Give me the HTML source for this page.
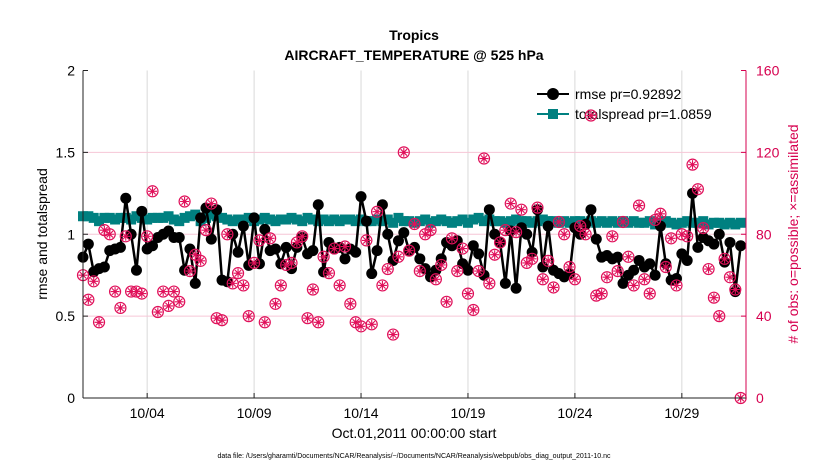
<!DOCTYPE html>
<html><head><meta charset="utf-8"><style>
body{margin:0;background:#fff;}
svg text{font-family:"Liberation Sans",Arial,sans-serif;}
</style></head><body>
<svg id="chart" width="830" height="470" xmlns="http://www.w3.org/2000/svg">
<rect width="830" height="470" fill="#fff"/>
<g id="grid"></g>
<g id="obs"></g>
<g id="spread"></g>
<g id="rmse"></g>
<g id="axes"></g>
<text x="414" y="40" text-anchor="middle" font-size="14" font-weight="bold">Tropics</text>
<text x="414" y="60" text-anchor="middle" font-size="14" font-weight="bold">AIRCRAFT_TEMPERATURE @ 525 hPa</text>
<text transform="translate(47,234) rotate(-90)" text-anchor="middle" font-size="14">rmse and totalspread</text>
<text transform="translate(798,234) rotate(-90)" text-anchor="middle" font-size="14" fill="#d6004f"># of obs: o=possible; ×=assimilated</text>
<text x="414" y="438" text-anchor="middle" font-size="14">Oct.01,2011 00:00:00 start</text>
<text x="414" y="458" text-anchor="middle" font-size="7">data file: /Users/gharamti/Documents/NCAR/Reanalysis/~/Documents/NCAR/Reanalysis/webpub/obs_diag_output_2011-10.nc</text>
<g>
<line x1="537" y1="94" x2="569" y2="94" stroke="#000" stroke-width="2"/>
<circle cx="553" cy="94" r="6" fill="#000"/>
<text x="575" y="99" font-size="14">rmse pr=0.92892</text>
<line x1="537" y1="114" x2="569" y2="114" stroke="#008080" stroke-width="2"/>
<rect x="548" y="109" width="10" height="10" fill="#008080"/>
<text x="575" y="119" font-size="14">totalspread pr=1.0859</text>
</g>
</svg>
<script>
const rmseVals=[0.86,0.94,0.77,0.79,0.80,0.90,0.91,0.92,1.22,1.00,0.78,1.14,0.91,0.93,0.98,1.00,1.02,0.98,0.98,0.78,0.91,0.70,1.10,1.16,0.97,1.15,0.72,0.71,1.00,0.89,1.05,0.81,1.10,0.82,1.03,0.90,0.91,0.82,0.92,0.79,0.92,0.98,0.88,0.90,1.18,0.77,0.95,0.91,0.92,0.85,0.91,0.89,1.23,1.08,0.76,0.90,1.18,1.00,0.84,0.96,1.01,0.90,0.92,0.85,0.79,0.74,0.78,0.85,0.95,0.93,0.96,0.82,0.78,0.93,0.88,0.75,1.15,1.00,0.95,0.70,1.02,0.67,1.04,1.00,0.89,1.15,0.80,1.05,0.78,0.76,0.74,0.76,1.04,1.00,1.06,1.15,0.97,0.86,0.87,0.85,0.86,0.70,0.75,0.78,0.84,0.80,0.82,0.75,1.05,0.82,0.72,0.73,0.88,0.84,1.25,0.92,0.98,0.96,0.94,1.00,0.83,0.95,0.65,0.93];
const spreadVals=[1.11,1.11,1.10,1.08,1.10,1.10,1.09,1.10,1.10,1.09,1.11,1.10,1.09,1.10,1.10,1.10,1.11,1.09,1.08,1.10,1.11,1.12,1.08,1.10,1.12,1.11,1.10,1.09,1.08,1.09,1.09,1.10,1.08,1.09,1.10,1.09,1.08,1.09,1.09,1.10,1.09,1.08,1.10,1.09,1.08,1.09,1.08,1.09,1.08,1.09,1.09,1.08,1.09,1.08,1.08,1.09,1.08,1.09,1.07,1.10,1.08,1.08,1.07,1.08,1.09,1.07,1.08,1.09,1.08,1.07,1.08,1.09,1.07,1.09,1.10,1.08,1.09,1.08,1.08,1.07,1.08,1.09,1.08,1.08,1.07,1.08,1.09,1.08,1.08,1.07,1.08,1.07,1.08,1.08,1.07,1.08,1.07,1.08,1.07,1.08,1.07,1.08,1.07,1.08,1.07,1.07,1.08,1.06,1.07,1.08,1.07,1.06,1.07,1.08,1.07,1.07,1.08,1.06,1.07,1.07,1.06,1.07,1.06,1.07];
const obsPossible=[60,48,57,37,82,80,52,44,79,52,52,51,79,101,42,52,45,52,47,96,62,70,67,82,95,39,38,80,56,61,55,40,66,77,37,78,46,55,65,66,76,79,39,53,37,69,61,73,55,74,46,37,35,77,36,91,55,63,31,69,120,72,85,62,80,82,58,65,47,78,62,73,51,43,62,117,56,70,76,82,95,81,92,66,68,93,58,67,54,86,80,64,58,84,80,138,50,51,59,79,62,86,69,55,94,58,51,87,90,64,78,55,80,79,114,102,83,63,49,40,68,59,53,0];
const obsAssim=obsPossible.slice();
const xTickLabels=["10/04","10/09","10/14","10/19","10/24","10/29"];
const xTickDays=[3,8,13,18,23,28];
const yTicks=[0,0.5,1,1.5,2];
const y2Ticks=[0,40,80,120,160];

const NS="http://www.w3.org/2000/svg";
const X0=83,X1=746,Y0=398,Y1=70.5;
const xs=d=>X0+(X1-X0)*d/31;
const ys=v=>Y0-(Y0-Y1)*v/2;
const y2s=v=>Y0-(Y0-Y1)*v/160;
function mk(tag,attrs,parent){const e=document.createElementNS(NS,tag);for(const k in attrs)e.setAttribute(k,attrs[k]);parent.appendChild(e);return e;}
const grid=document.getElementById('grid'),axes=document.getElementById('axes');
xTickDays.forEach((d,i)=>{
  const l=mk('line',{x1:xs(d),x2:xs(d),y1:Y1,y2:Y0,stroke:'#d9d9d9','stroke-width':1},grid);
  
  
  const t=mk('text',{x:xs(d),y:Y0+20,'text-anchor':'middle','font-size':14},axes);
  t.textContent=xTickLabels[i];
  
  
  mk('line',{x1:xs(d),x2:xs(d),y1:Y0,y2:Y0-5,stroke:'#222'},axes);
});
y2Ticks.forEach(v=>{
  if(v>0&&v<160){const l=mk('line',{x1:X0,x2:X1,y1:y2s(v),y2:y2s(v),stroke:'#f6c6d6','stroke-width':1},grid);
  
  }
  const t=mk('text',{x:X1+10,y:y2s(v)+5,'font-size':14,fill:'#d6004f'},axes);
  t.textContent=v;
  
  
  mk('line',{x1:X1,x2:X1-5,y1:y2s(v),y2:y2s(v),stroke:'#d6004f'},axes);
});
yTicks.forEach(v=>{
  const t=mk('text',{x:X0-8,y:ys(v)+5,'text-anchor':'end','font-size':14},axes);
  t.textContent=v;
  
  
  mk('line',{x1:X0,x2:X0+5,y1:ys(v),y2:ys(v),stroke:'#222'},axes);
});
mk('line',{x1:X0,x2:X0,y1:Y1,y2:Y0,stroke:'#222'},axes);
mk('line',{x1:X0,x2:X1,y1:Y0,y2:Y0,stroke:'#222'},axes);
mk('line',{x1:X1,x2:X1,y1:Y1,y2:Y0,stroke:'#d6004f'},axes);
const tx=i=>xs(i*0.25);
const obs=document.getElementById('obs');
obsPossible.forEach((c,i)=>{
  const cx=tx(i),cy=y2s(c);
  const g=mk('g',{},obs);
  
  
  mk('circle',{cx:cx,cy:cy,r:5.5,fill:'none',stroke:'#e0105a','stroke-width':1.2},g);
  const a=obsAssim[i],ay=y2s(a),r=4.5;
  let d='';
  for(let k=0;k<4;k++){const an=k*Math.PI/4;d+=`M${cx-r*Math.cos(an)},${ay-r*Math.sin(an)}L${cx+r*Math.cos(an)},${ay+r*Math.sin(an)}`;}
  const p=mk('path',{d:d,stroke:'#e0105a','stroke-width':1.1},g);
  
  
});
const sp=document.getElementById('spread');
mk('polyline',{points:spreadVals.map((v,i)=>tx(i)+','+ys(v)).join(' '),fill:'none',stroke:'#008080','stroke-width':2},sp);
spreadVals.forEach((v,i)=>{
  const r=mk('rect',{x:tx(i)-5,y:ys(v)-5,width:10,height:10,fill:'#008080'},sp);
  
  
});
const rm=document.getElementById('rmse');
mk('polyline',{points:rmseVals.map((v,i)=>tx(i)+','+ys(v)).join(' '),fill:'none',stroke:'#000','stroke-width':2.5},rm);
rmseVals.forEach((v,i)=>{
  const c=mk('circle',{cx:tx(i),cy:ys(v),r:5.5,fill:'#000'},rm);
  
  
});
document.getElementById('chart').appendChild(obs);
document.getElementById('chart').appendChild(axes);
</script>
</body></html>
